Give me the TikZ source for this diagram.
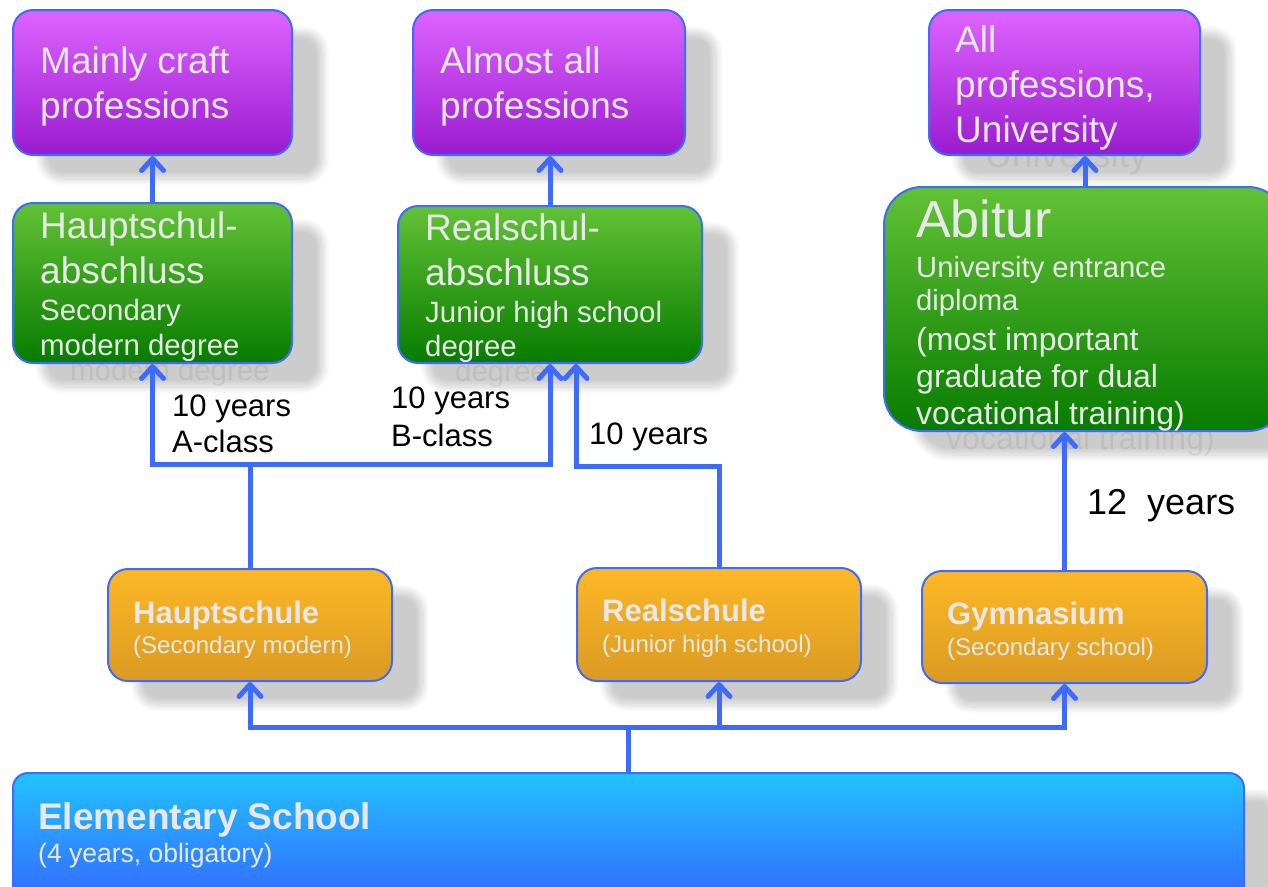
\documentclass[tikz,border=0pt]{standalone}
\usepackage{fontspec}
\setmainfont{Liberation Sans}
\usetikzlibrary{arrows.meta,shadows.blur,calc}
\pgfdeclarelayer{shadowlayer}
\pgfdeclarelayer{shtextlayer}
\pgfsetlayers{shadowlayer,shtextlayer,main}

\definecolor{edgeblue}{HTML}{3D6BFF}
\definecolor{boxtext}{HTML}{E8E8E8}
\definecolor{pTop}{HTML}{DE64FF}
\definecolor{pBot}{HTML}{9A1BD0}
\definecolor{gTop}{HTML}{62C236}
\definecolor{gBot}{HTML}{077C00}
\definecolor{oTop}{HTML}{FDB826}
\definecolor{oBot}{HTML}{DA9A22}
\definecolor{bTop}{HTML}{22C2FF}
\definecolor{bBot}{HTML}{3468FF}

\newcommand\fsz[1]{\fontsize{#1}{#1}\selectfont}

\tikzset{
  boxbase/.style={rectangle, draw=edgeblue, line width=2pt, rounded corners=20pt,
    inner sep=0pt, anchor=north west},
  pbox/.style={boxbase, top color=pTop, bottom color=pBot},
  gbox/.style={boxbase, top color=gTop, bottom color=gBot},
  obox/.style={boxbase, top color=oTop, bottom color=oBot},
  bbox/.style={boxbase, top color=bTop, bottom color=bBot, rounded corners=15pt},
  tx/.style={anchor=base west, inner sep=0pt, text=boxtext},
  shtx/.style={anchor=base west, inner sep=0pt, text=black, text opacity=0.07},
  lab/.style={anchor=base west, inner sep=0pt, text=black},
  line/.style={draw=edgeblue, line width=5pt},
  arr/.style={line, -{Straight Barb[length=12pt,width=22pt,round]}},
}

% box shadow
\newcommand\shadowof[2][20pt]{%
  \begin{pgfonlayer}{shadowlayer}
  \path[blur shadow={shadow xshift=30pt,shadow yshift=-23pt,shadow blur radius=7pt,shadow blur steps=12,shadow opacity=20},
        rounded corners=#1] (#2.north west) rectangle (#2.south east);
  \end{pgfonlayer}}
% box text
\newcommand\bt[5]{%
  \node[tx,font=#4] (#1) at (#2,#3) {#5};}
% box text with its faint shadow copy (only where the shadow shows)
\newcommand\bts[5]{%
  \node[tx,font=#4] (#1) at (#2,#3) {#5};
  \begin{pgfonlayer}{shtextlayer}
  \node[shtx,font=#4] (#1s) at ($(#2,#3)+(30,25)$) {#5};
  \end{pgfonlayer}}

\begin{document}
\begin{tikzpicture}[x=1pt,y=-1pt]
\useasboundingbox (0,0) rectangle (1268,886);

% ---------- boxes ----------
\node[pbox, minimum width=279pt, minimum height=145pt] (p1) at (12,9) {};
\node[pbox, minimum width=272pt, minimum height=145pt] (p2) at (412,9) {};
\node[pbox, minimum width=271pt, minimum height=145pt] (p3) at (928,9) {};

\node[gbox, minimum width=279pt, minimum height=160pt] (g1) at (12,202) {};
\node[gbox, minimum width=304pt, minimum height=157pt] (g2) at (397,205) {};
\node[gbox, rounded corners=38pt, minimum width=402pt, minimum height=244pt] (ab) at (883,186) {};

\node[obox, minimum width=284pt, minimum height=112pt] (hs) at (107,568) {};
\node[obox, minimum width=284pt, minimum height=113pt] (rs) at (576,567) {};
\node[obox, minimum width=285pt, minimum height=112pt] (gy) at (921,570) {};

\node[bbox, minimum width=1231pt, minimum height=130pt] (el) at (12,772) {};

\shadowof{p1}\shadowof{p2}\shadowof{p3}
\shadowof{g1}\shadowof{g2}\shadowof[38pt]{ab}
\shadowof{hs}\shadowof{rs}\shadowof{gy}
\shadowof[15pt]{el}

% ---------- texts ----------
\bt{p1a}{40}{73}{\fsz{37}}{Mainly craft}
\bt{p1b}{40}{118}{\fsz{37}}{professions}
\bt{p2a}{440}{73}{\fsz{37}}{Almost all}
\bt{p2b}{440}{118}{\fsz{37}}{professions}
\bt{p3a}{955}{52}{\fsz{37}}{All}
\bt{p3b}{955}{97}{\fsz{37}}{professions,}
\bts{p3c}{955}{142}{\fsz{37}}{University}

\bt{g1a}{40}{238}{\fsz{37}}{Hauptschul-}
\bt{g1b}{40}{283}{\fsz{37}}{abschluss}
\bt{g1c}{40}{320}{\fsz{29.4}}{Secondary}
\bts{g1d}{40}{355}{\fsz{29.4}}{modern degree}

\bt{g2a}{425}{240}{\fsz{37}}{Realschul-}
\bt{g2b}{425}{285}{\fsz{37}}{abschluss}
\bt{g2c}{425}{322}{\fsz{29.4}}{Junior high school}
\bts{g2d}{425}{356}{\fsz{29.4}}{degree}

\bt{aba}{916}{237}{\fsz{52}}{Abitur}
\bt{abb}{916}{277}{\fsz{29.2}}{University entrance}
\bt{abc}{916}{310}{\fsz{29.2}}{diploma}
\bt{abd}{916}{350}{\fsz{32}}{(most important}
\bt{abe}{916}{387}{\fsz{32}}{graduate for dual}
\bts{abf}{916}{424}{\fsz{32}}{vocational training)}

\bt{hsa}{133}{623}{\fsz{31}\bfseries}{Hauptschule}
\bt{hsb}{133}{653}{\fsz{24}}{(Secondary modern)}
\bt{rsa}{602}{621}{\fsz{31}\bfseries}{Realschule}
\bt{rsb}{602}{652}{\fsz{24}}{(Junior high school)}
\bt{gya}{947}{624}{\fsz{31}\bfseries}{Gymnasium}
\bt{gyb}{947}{655}{\fsz{24}}{(Secondary school)}

\bt{ela}{38}{829}{\fsz{37}\bfseries}{Elementary School}
\bt{elb}{38}{862}{\fsz{26.5}}{(4 years, obligatory)}

% ---------- labels ----------
\node[lab,font=\fsz{31}] (la1) at (172,416) {10 years};
\node[lab,font=\fsz{31}] (la2) at (172,452) {A-class};
\node[lab,font=\fsz{31}] (lb1) at (391,408) {10 years};
\node[lab,font=\fsz{31}] (lb2) at (391,446) {B-class};
\node[lab,font=\fsz{31}] (lc1) at (589,444) {10 years};
\node[lab,font=\fsz{36}] (ld1) at (1087,514) {12\ \ years};

% ---------- connectors ----------
\coordinate (ej) at ($(el.north)+(0,-45)$);
\draw[line] (el.north) -- (ej);
\draw[arr] (ej) -| (hs.south);
\draw[arr] (ej) -| (rs.south);
\draw[arr] (ej) -| (gy.south);

\coordinate (hj) at ($(hs.north)+(0,-104)$);
\draw[line] (hs.north) -- (hj);
\draw[arr] (hj) -| (g1.south);
\draw[arr] (hj) -| (g2.south);

\coordinate (rt) at ([xshift=26pt]g2.south);
\draw[arr] (rs.north) |- ($(rt)+(0,102)$) -- (rt);

\draw[arr] (gy.north) -- (gy.north |- ab.south);
\draw[arr] (ab.north) -- (ab.north |- p3.south);
\draw[arr] (g1.north) -- (p1.south);
\draw[arr] (g2.north) -- (g2.north |- p2.south);
\end{tikzpicture}
\end{document}
